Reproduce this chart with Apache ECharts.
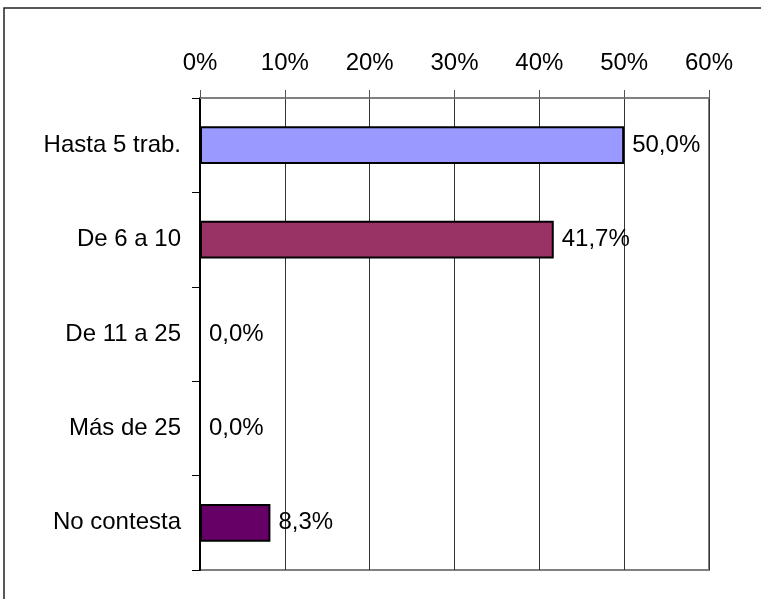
<!DOCTYPE html>
<html>
<head>
<meta charset="utf-8">
<script src="https://cdn.jsdelivr.net/npm/echarts@6/dist/echarts.min.js"></script>
<style>
html,body{margin:0;padding:0;background:#fff;}
#c{width:761px;height:599px;}
</style>
</head>
<body>
<div id="c"></div>
<script>
var categories = ['Hasta 5 trab.', 'De 6 a 10', 'De 11 a 25', 'Más de 25', 'No contesta'];
var values = [50.0, 41.7, 0.0, 0.0, 8.3];
var colors = ['#9999FF', '#993366', '#9999FF', '#9999FF', '#660066'];
var axisMin = 0, axisMax = 60, axisStep = 10;

var FONT = '"Liberation Sans", Arial, sans-serif';
var FS = 24;

var chart = echarts.init(document.getElementById('c'), null, {renderer: 'canvas'});
chart.setOption({
  animation: false,
  backgroundColor: '#fff',
  graphic: [{
    type: 'polyline',
    shape: {points: [[4, 700], [4, 8], [900, 8]]},
    style: {fill: null, stroke: '#222', lineWidth: 1.5},
    z: 100
  }],
  grid: {
    left: 200, right: 52, top: 98, bottom: 29,
    show: true, borderColor: '#808080', borderWidth: 2, backgroundColor: 'transparent'
  },
  xAxis: {
    type: 'value',
    position: 'top',
    min: axisMin, max: axisMax, interval: axisStep,
    axisLine: {show: true, lineStyle: {color: '#808080', width: 2}},
    axisTick: {show: true, length: 8, lineStyle: {color: '#555', width: 1}},
    axisLabel: {
      margin: 23, color: '#000', fontFamily: FONT, fontSize: FS,
      formatter: function (v) { return v + '%'; }
    },
    splitLine: {show: true, lineStyle: {color: '#333', width: 1}}
  },
  yAxis: {
    type: 'category',
    data: categories,
    inverse: true,
    axisLine: {show: true, lineStyle: {color: '#000', width: 2}},
    axisTick: {show: true, length: 8, alignWithLabel: false, lineStyle: {color: '#000', width: 1}},
    axisLabel: {margin: 19, color: '#000', fontFamily: FONT, fontSize: FS},
    splitLine: {show: false}
  },
  series: [{
    type: 'bar',
    barWidth: '40%',
    data: values.map(function (v, i) {
      return {value: v, itemStyle: {color: colors[i]}};
    }),
    itemStyle: {borderColor: '#000', borderWidth: 2},
    label: {
      show: true, position: 'right', distance: 8,
      color: '#000', fontFamily: FONT, fontSize: FS,
      formatter: function (p) { return p.value.toFixed(1).replace('.', ',') + '%'; }
    }
  }]
});
</script>
</body>
</html>
